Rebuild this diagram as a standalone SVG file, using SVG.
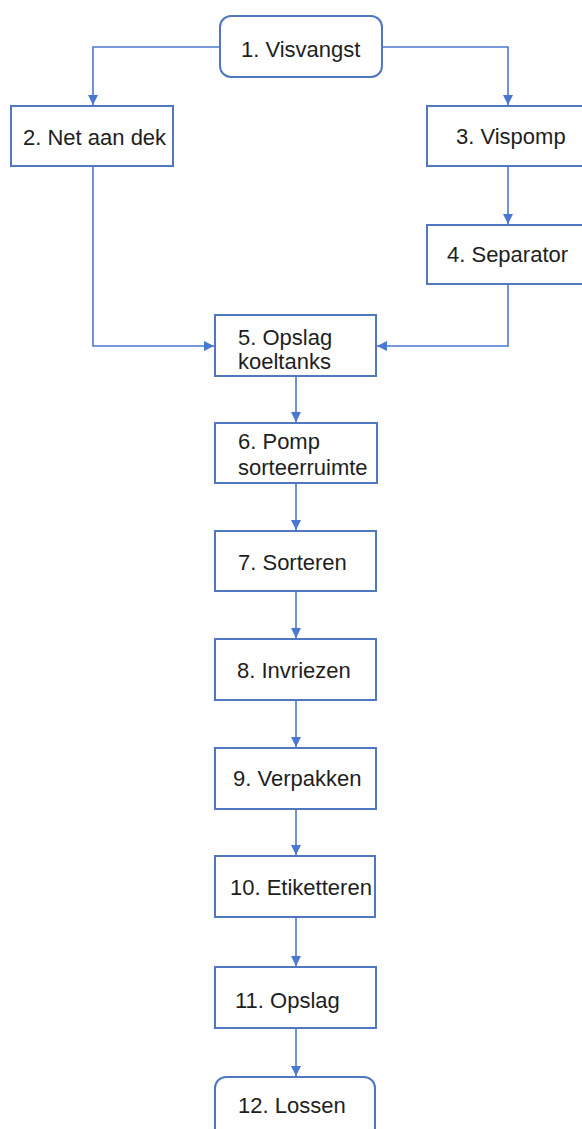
<svg xmlns="http://www.w3.org/2000/svg" width="582" height="1129" viewBox="0 0 582 1129">
<style>
.box{fill:#fff;stroke:#5077c0;stroke-width:2}
.t{font-family:"Liberation Sans",Arial,sans-serif;font-size:22px;fill:#1e1e1e}
.c{fill:none;stroke:#4a78d0;stroke-width:1.6}
</style>
<defs>
<marker id="ah" viewBox="0 0 10 10" refX="10" refY="5" markerWidth="10" markerHeight="10" markerUnits="userSpaceOnUse" orient="auto">
<path d="M0,0 L10,5 L0,10 z" fill="#4a78d0"/>
</marker>
</defs>
<rect width="582" height="1129" fill="#fff"/>
<g id="connectors">
<polyline class="c" points="220,47 93,47 93,105" marker-end="url(#ah)"/>
<polyline class="c" points="382,47 508,47 508,105" marker-end="url(#ah)"/>
<line class="c" x1="508" y1="166" x2="508" y2="224" marker-end="url(#ah)"/>
<polyline class="c" points="93,166 93,346 214,346" marker-end="url(#ah)"/>
<polyline class="c" points="508,284 508,346 377,346" marker-end="url(#ah)"/>
<line class="c" x1="296" y1="376" x2="296" y2="422" marker-end="url(#ah)"/>
<line class="c" x1="296" y1="483" x2="296" y2="530" marker-end="url(#ah)"/>
<line class="c" x1="296" y1="591" x2="296" y2="638" marker-end="url(#ah)"/>
<line class="c" x1="296" y1="700" x2="296" y2="747" marker-end="url(#ah)"/>
<line class="c" x1="296" y1="809" x2="296" y2="855" marker-end="url(#ah)"/>
<line class="c" x1="296" y1="917" x2="296" y2="966" marker-end="url(#ah)"/>
<line class="c" x1="296" y1="1028" x2="296" y2="1076" marker-end="url(#ah)"/>
</g>
<g id="n1"><rect class="box" x="220" y="16" width="162" height="61" rx="11"/><text class="t" x="241" y="57">1. Visvangst</text></g>
<g id="n2"><rect class="box" x="11" y="106" width="162" height="60"/><text class="t" x="23" y="145">2. Net aan dek</text></g>
<g id="n3"><rect class="box" x="427" y="106" width="162" height="60"/><text class="t" x="456" y="144">3. Vispomp</text></g>
<g id="n4"><rect class="box" x="427" y="225" width="162" height="59"/><text class="t" x="447" y="262">4. Separator</text></g>
<g id="n5"><rect class="box" x="215" y="315" width="161" height="61"/><text class="t" x="238" y="345">5. Opslag</text><text class="t" x="238" y="369">koeltanks</text></g>
<g id="n6"><rect class="box" x="215" y="423" width="162" height="60"/><text class="t" x="238" y="449">6. Pomp</text><text class="t" x="238" y="475">sorteerruimte</text></g>
<g id="n7"><rect class="box" x="215" y="531" width="161" height="60"/><text class="t" x="238" y="570">7. Sorteren</text></g>
<g id="n8"><rect class="box" x="215" y="639" width="161" height="61"/><text class="t" x="237" y="678">8. Invriezen</text></g>
<g id="n9"><rect class="box" x="215" y="748" width="161" height="61"/><text class="t" x="233" y="786">9. Verpakken</text></g>
<g id="n10"><rect class="box" x="215" y="856" width="160" height="61"/><text class="t" x="230" y="895">10. Etiketteren</text></g>
<g id="n11"><rect class="box" x="215" y="967" width="161" height="61"/><text class="t" x="235" y="1008">11. Opslag</text></g>
<g id="n12"><rect class="box" x="215" y="1077" width="160" height="70" rx="11"/><text class="t" x="238" y="1113">12. Lossen</text></g>
</svg>
